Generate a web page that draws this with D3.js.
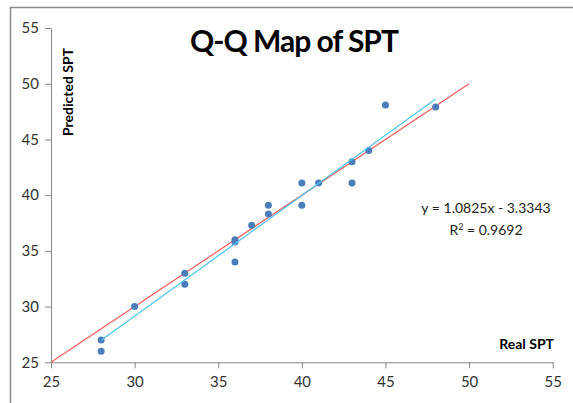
<!DOCTYPE html>
<html>
<head>
<meta charset="utf-8">
<script src="https://cdn.jsdelivr.net/npm/d3@7"></script>
<style>
  body { margin: 0; background: #fff; }
  svg text { font-family: Lato, "Open Sans", sans-serif; }
  .axis path, .axis line { stroke: #868686; }
  .axis text { font-size: 15px; fill: #333; }
</style>
</head>
<body>
<div id="chart"></div>
<script>
var svgWidth = 573;
var svgHeight = 403;

// observed quantiles (Real SPT vs Predicted SPT)
var realSPT = [28, 28, 30, 33, 33, 36, 36, 36, 37, 38, 38, 40, 40, 41, 43, 43, 44, 45, 48];
var predictedSPT = [27, 26, 30, 33, 32, 36, 35.8, 34, 37.3, 39.1, 38.3, 41.1, 39.1, 41.1, 43, 41.1, 44, 48.1, 47.9];

// trend line y = a*x + b, and the 1:1 reference line
var trendCoef = [1.0825, -3.3343];
var trendRange = [28, 48];
var identityRange = [25, 50];

var xTicks = [25, 30, 35, 40, 45, 50, 55];
var yTicks = [25, 30, 35, 40, 45, 50, 55];

var margin = { top: 28, right: 20, bottom: 41, left: 51 };
var width = 552.7 - margin.left;
var height = 362.3 - margin.top;

var svg = d3.select("#chart")
  .append("svg")
  .attr("width", svgWidth)
  .attr("height", svgHeight);

// frame (top and left edges visible)
svg.append("path")
  .attr("d", "M10.5," + svgHeight + "V7.5H" + svgWidth)
  .attr("fill", "none")
  .attr("stroke", "#8c8c8c")
  .attr("stroke-width", 1.5);

var chartGroup = svg.append("g")
  .attr("transform", `translate(${margin.left}, ${margin.top})`);

var x = d3.scaleLinear().domain([25, 55]).range([0, width]);
var y = d3.scaleLinear().domain([25, 55]).range([height, 0]);

var xAxis = chartGroup.append("g")
  .attr("class", "axis")
  .attr("transform", `translate(0, ${height})`)
  .call(d3.axisBottom(x).tickValues(xTicks).tickSize(6).tickSizeOuter(0).tickPadding(8));

var yAxis = chartGroup.append("g")
  .attr("class", "axis")
  .call(d3.axisLeft(y).tickValues(yTicks).tickSize(6).tickSizeOuter(0).tickPadding(6));

chartGroup.selectAll(".axis .domain").attr("stroke", "#868686");

// 1:1 line
chartGroup.append("line")
  .attr("x1", x(identityRange[0]))
  .attr("y1", y(identityRange[0]))
  .attr("x2", x(identityRange[1]))
  .attr("y2", y(identityRange[1]))
  .attr("stroke", "#f25a5a")
  .attr("stroke-width", 1.2);

// points
chartGroup.selectAll("circle")
  .data(realSPT)
  .enter()
  .append("circle")
  .attr("cx", d => x(d))
  .attr("cy", (d, i) => y(predictedSPT[i]))
  .attr("r", 3.5)
  .attr("fill", "#4a7ebb");

// linear trend line
chartGroup.append("line")
  .attr("x1", x(trendRange[0]))
  .attr("y1", y(trendCoef[0] * trendRange[0] + trendCoef[1]))
  .attr("x2", x(trendRange[1]))
  .attr("y2", y(trendCoef[0] * trendRange[1] + trendCoef[1]))
  .attr("stroke", "#4cc4f0")
  .attr("stroke-width", 1.2);

// title
svg.append("text")
  .attr("x", 294)
  .attr("y", 52)
  .attr("text-anchor", "middle")
  .style("font-size", "30px")
  .style("font-weight", "bold")
  .style("letter-spacing", "-1px")
  .attr("fill", "#000")
  .text("Q-Q Map of SPT");

// axis labels
svg.append("text")
  .attr("transform", "translate(73, 92) rotate(-90)")
  .attr("text-anchor", "middle")
  .style("font-size", "14px")
  .style("font-weight", "bold")
  .text("Predicted SPT");

svg.append("text")
  .attr("x", 554)
  .attr("y", 349)
  .attr("text-anchor", "end")
  .style("font-size", "14px")
  .style("font-weight", "bold")
  .text("Real SPT");

// equation
var eq = svg.append("text")
  .attr("text-anchor", "middle")
  .style("font-size", "14px")
  .attr("fill", "#222");
eq.append("tspan").attr("x", 486).attr("y", 213).text("y = 1.0825x - 3.3343");
var r2 = eq.append("tspan").attr("x", 486).attr("y", 235).text("R");
r2.append("tspan").attr("dy", -5).style("font-size", "9px").text("2");
r2.append("tspan").attr("dy", 5).text(" = 0.9692");
</script>
</body>
</html>
